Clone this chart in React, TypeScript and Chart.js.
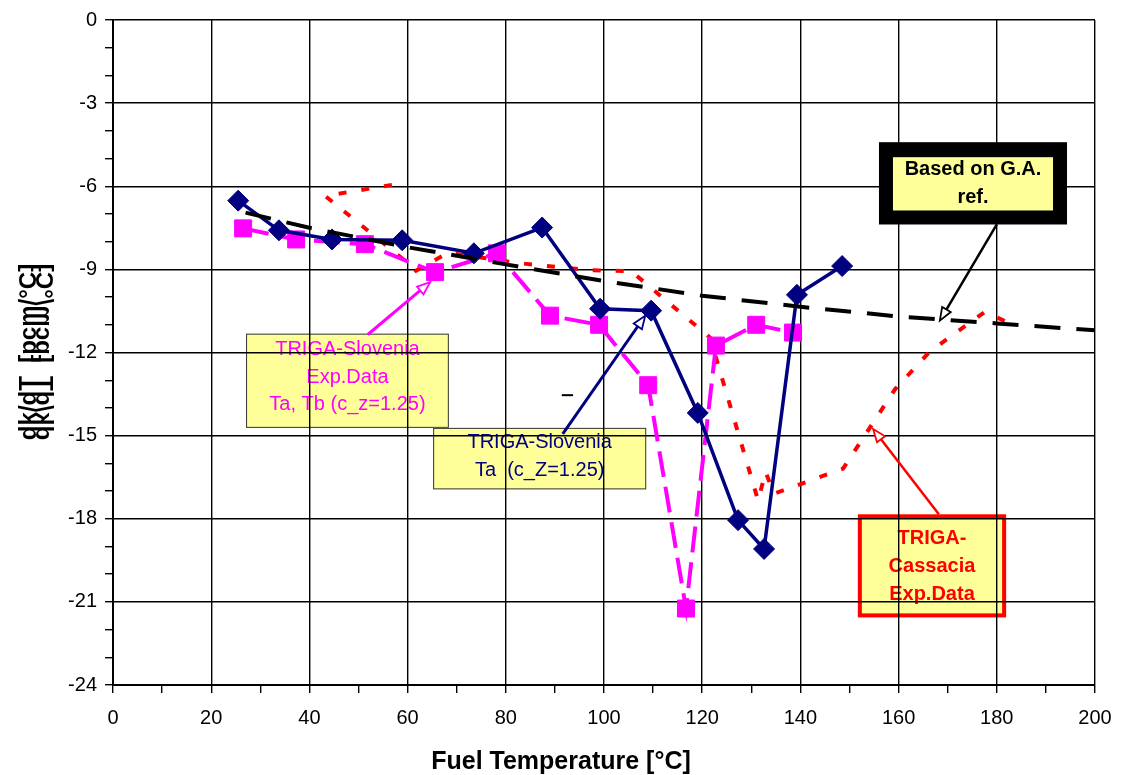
import { useEffect, useRef } from 'react';
import { Chart, registerables } from 'chart.js';

Chart.register(...registerables);

const FONT = "'Liberation Sans', Arial, Helvetica, sans-serif";

// Axis ticks
const xTickLabels = [0, 20, 40, 60, 80, 100, 120, 140, 160, 180, 200];
const yTickLabels = [0, -3, -6, -9, -12, -15, -18, -21, -24];

// TRIGA-Slovenia Ta (c_Z=1.25) - navy diamonds
const taX = [25.5, 33.8, 44.6, 58.9, 73.5, 87.4, 99.2, 109.6, 119.1, 127.3, 132.6, 139.3, 148.5];
const taY = [-6.52, -7.59, -7.92, -7.95, -8.42, -7.49, -10.42, -10.49, -14.18, -18.05, -19.09, -9.92, -8.88];

// TRIGA-Slovenia Exp.Data Ta, Tb (c_z=1.25) - magenta squares
const tabX = [26.5, 37.3, 51.3, 65.6, 78.2, 89.0, 99.0, 109.0, 116.7, 122.8, 131.0, 138.5];
const tabY = [-7.52, -7.92, -8.09, -9.1, -8.42, -10.67, -11.0, -13.18, -21.24, -11.75, -11.0, -11.28];

// Based on G.A. ref. - black dashed
const gaX = [27, 40, 60, 80, 100, 120, 140, 160, 180, 200];
const gaY = [-6.95, -7.5, -8.2, -8.82, -9.42, -9.95, -10.35, -10.7, -10.95, -11.2];

// TRIGA-Cassacia Exp.Data - red dotted
const casX = [56.8, 43.2, 59.9, 61.7, 68.2, 83.0, 97.1, 105.5, 121.6, 131.4, 132.9, 134.6, 148.7, 159.3, 166.4, 177.6, 182.3];
const casY = [-5.95, -6.35, -8.75, -9.05, -8.4, -8.78, -9.03, -9.06, -11.46, -17.35, -16.3, -17.1, -16.19, -13.32, -11.96, -10.53, -10.92];

const pts = (xs: number[], ys: number[]) => xs.map((x, i) => ({ x, y: ys[i] }));

function drawArrow(ctx: CanvasRenderingContext2D, x0: number, y0: number, x1: number, y1: number, color: string, width: number) {
  const a = Math.atan2(y1 - y0, x1 - x0);
  const L = 13, W = 5;
  ctx.save();
  ctx.setLineDash([]);
  ctx.strokeStyle = color;
  ctx.lineWidth = width;
  ctx.beginPath();
  ctx.moveTo(x0, y0);
  ctx.lineTo(x1 - Math.cos(a) * L * 0.9, y1 - Math.sin(a) * L * 0.9);
  ctx.stroke();
  const bx = x1 - Math.cos(a) * L, by = y1 - Math.sin(a) * L;
  ctx.beginPath();
  ctx.moveTo(x1, y1);
  ctx.lineTo(bx + Math.sin(a) * W, by - Math.cos(a) * W);
  ctx.lineTo(bx - Math.sin(a) * W, by + Math.cos(a) * W);
  ctx.closePath();
  ctx.fillStyle = '#fff';
  ctx.fill();
  ctx.lineWidth = 1.8;
  ctx.stroke();
  ctx.restore();
}

type Box = { x0: number; x1: number; y0: number; y1: number; lines: string[]; color: string; font: string; first: number; step: number };

const slovBox: Box = { x0: 27.1, x1: 68.4, y0: -11.32, y1: -14.72, lines: ['TRIGA-Slovenia', 'Exp.Data', 'Ta, Tb (c_z=1.25)'], color: '#FF00FF', font: `20px ${FONT}`, first: 16, step: 27.5 };
const navyBox: Box = { x0: 65.2, x1: 108.6, y0: -14.72, y1: -16.94, lines: ['TRIGA-Slovenia', 'Ta  (c_Z=1.25)'], color: '#000080', font: `20px ${FONT}`, first: 15, step: 28 };
const redBox: Box = { x0: 151.7, x1: 181.9, y0: -17.84, y1: -21.56, lines: ['TRIGA-', 'Cassacia', 'Exp.Data'], color: '#FF0000', font: `bold 20px ${FONT}`, first: 24, step: 28 };
const gaBox: Box = { x0: 156.0, x1: 194.3, y0: -4.41, y1: -7.38, lines: ['Based on G.A.', 'ref.'], color: '#000000', font: `bold 20px ${FONT}`, first: 27, step: 28 };

function boxRect(chart: any, b: Box) {
  const xs = chart.scales.x, ys = chart.scales.y;
  const l = xs.getPixelForValue(b.x0), r = xs.getPixelForValue(b.x1);
  const t = ys.getPixelForValue(b.y0), btm = ys.getPixelForValue(b.y1);
  return { l, r, t, b: btm };
}

function drawBoxText(ctx: CanvasRenderingContext2D, rc: any, b: Box) {
  ctx.save();
  ctx.font = b.font;
  ctx.fillStyle = b.color;
  ctx.textAlign = 'center';
  ctx.textBaseline = 'middle';
  const cx = (rc.l + rc.r) / 2;
  b.lines.forEach((s, i) => ctx.fillText(s, cx, rc.t + b.first + i * b.step));
  ctx.restore();
}

const annotPlugin = {
  id: 'annot',
  beforeDraw(chart: any) {
    const ctx: CanvasRenderingContext2D = chart.ctx;
    for (const b of [slovBox, navyBox]) {
      const rc = boxRect(chart, b);
      ctx.save();
      ctx.fillStyle = '#FFFF99';
      ctx.fillRect(rc.l, rc.t, rc.r - rc.l, rc.b - rc.t);
      ctx.strokeStyle = '#333';
      ctx.lineWidth = 1;
      ctx.strokeRect(rc.l + 0.5, rc.t + 0.5, rc.r - rc.l - 1, rc.b - rc.t - 1);
      ctx.restore();
      drawBoxText(ctx, rc, b);
    }
    {
      const rc = boxRect(chart, redBox);
      ctx.save();
      ctx.fillStyle = '#FFFF99';
      ctx.fillRect(rc.l, rc.t, rc.r - rc.l, rc.b - rc.t);
      ctx.strokeStyle = '#FF0000';
      ctx.lineWidth = 4;
      ctx.strokeRect(rc.l + 2, rc.t + 2, rc.r - rc.l - 4, rc.b - rc.t - 4);
      ctx.restore();
      drawBoxText(ctx, rc, redBox);
    }
  },
  afterDatasetsDraw(chart: any) {
    const ctx: CanvasRenderingContext2D = chart.ctx;
    const xs = chart.scales.x, ys = chart.scales.y;
    const P = (x: number, y: number) => [xs.getPixelForValue(x), ys.getPixelForValue(y)];
    const arrows: [number, number, number, number, string, number][] = [
      [51.9, -11.35, 64.6, -9.46, '#FF00FF', 3],
      [91.6, -14.94, 108.4, -10.67, '#000080', 3],
      [168.2, -17.84, 154.8, -14.76, '#FF0000', 2.5],
      [180.0, -7.38, 168.4, -10.85, '#000000', 2.5],
    ];
    for (const [ax, ay, bx, by, c, w] of arrows) {
      const [x0, y0] = P(ax, ay);
      const [x1, y1] = P(bx, by);
      drawArrow(ctx, x0, y0, x1, y1, c, w);
    }
    const [d0x, d0y] = P(91.4, -13.54);
    const [d1x] = P(93.7, -13.54);
    ctx.save();
    ctx.strokeStyle = '#000';
    ctx.lineWidth = 2;
    ctx.beginPath();
    ctx.moveTo(d0x, d0y);
    ctx.lineTo(d1x, d0y);
    ctx.stroke();
    ctx.restore();
  },
  afterDraw(chart: any) {
    const ctx: CanvasRenderingContext2D = chart.ctx;
    const rc = boxRect(chart, gaBox);
    ctx.save();
    ctx.fillStyle = '#000';
    ctx.fillRect(rc.l, rc.t, rc.r - rc.l, rc.b - rc.t);
    ctx.fillStyle = '#FFFF99';
    ctx.fillRect(rc.l + 14, rc.t + 15, rc.r - rc.l - 28, rc.b - rc.t - 29);
    ctx.restore();
    drawBoxText(ctx, rc, gaBox);

    ctx.save();
    ctx.font = `bold 25px ${FONT}`;
    ctx.fillStyle = '#000';
    ctx.textAlign = 'center';
    ctx.textBaseline = 'middle';
    ctx.fillText('Fuel Temperature [°C]', 561, 762);
    ctx.restore();

    const yl = 'dk/dT  [pcm/°C]';
    ctx.save();
    ctx.font = `bold 24px ${FONT}`;
    ctx.fillStyle = '#000';
    ctx.textAlign = 'center';
    ctx.textBaseline = 'alphabetic';
    ctx.translate(36, 352);
    ctx.rotate(-Math.PI / 2);
    ctx.fillText(yl, 0, 0);
    ctx.scale(1, -1);
    ctx.fillText(yl, 0, 0);
    ctx.restore();
  },
};

export default function App() {
  const ref = useRef<HTMLCanvasElement | null>(null);

  useEffect(() => {
    if (!ref.current) return;
    const tickFont = { family: FONT, size: 20 };
    const chart = new Chart(ref.current, {
      type: 'line',
      data: {
        datasets: [
          {
            label: 'Based on G.A. ref.',
            data: pts(gaX, gaY),
            borderColor: '#000000',
            borderWidth: 4,
            borderDash: [26, 16],
            pointRadius: 0,
            order: 0,
          },
          {
            label: 'TRIGA-Slovenia Ta (c_Z=1.25)',
            data: pts(taX, taY),
            borderColor: '#000080',
            backgroundColor: '#000080',
            pointBackgroundColor: '#000080',
            pointBorderColor: '#000080',
            borderWidth: 3.5,
            pointStyle: 'rectRot',
            pointRadius: 10.5,
            pointBorderWidth: 1,
            order: 1,
          },
          {
            label: 'TRIGA-Slovenia Exp.Data Ta, Tb (c_z=1.25)',
            data: pts(tabX, tabY),
            borderColor: '#FF00FF',
            backgroundColor: '#FF00FF',
            pointBackgroundColor: '#FF00FF',
            pointBorderColor: '#FF00FF',
            borderWidth: 4,
            borderDash: [26, 10],
            pointStyle: 'rect',
            pointRadius: 12,
            pointBorderWidth: 1,
            order: 2,
          },
          {
            label: 'TRIGA-Cassacia Exp.Data',
            data: pts(casX, casY),
            borderColor: '#FF0000',
            borderWidth: 4,
            borderDash: [8, 15],
            pointRadius: 0,
            order: 3,
          },
        ],
      },
      options: {
        responsive: false,
        animation: false,
        layout: { padding: { left: 0, top: 15, right: 33, bottom: 0 } },
        plugins: { legend: { display: false }, tooltip: { enabled: false }, title: { display: false } },
        elements: { line: { tension: 0, fill: false } },
        scales: {
          x: {
            type: 'linear',
            min: 0,
            max: 200,
            ticks: {
              stepSize: 10,
              autoSkip: false,
              maxRotation: 0,
              padding: 13,
              color: '#000',
              font: tickFont,
              callback: (v: any) => (xTickLabels.includes(Number(v)) ? String(v) : ''),
            },
            grid: {
              color: (c: any) => (c.tick && xTickLabels.includes(Number(c.tick.value)) ? '#000' : 'rgba(0,0,0,0)'),
              tickColor: '#000',
              lineWidth: 1.4,
              tickLength: 8,
              drawTicks: true,
            },
            border: { color: '#000', width: 2 },
            afterFit: (s: any) => {
              s.height = 90;
            },
          },
          y: {
            type: 'linear',
            min: -24,
            max: 0,
            ticks: {
              stepSize: 1,
              autoSkip: false,
              padding: 8,
              color: '#000',
              font: tickFont,
              callback: (v: any) => (yTickLabels.includes(Number(v)) ? String(v) : ''),
            },
            grid: {
              color: (c: any) => (c.tick && yTickLabels.includes(Number(c.tick.value)) ? '#000' : 'rgba(0,0,0,0)'),
              tickColor: '#000',
              lineWidth: 1.4,
              tickLength: 8,
              drawTicks: true,
            },
            border: { color: '#000', width: 2 },
            afterFit: (s: any) => {
              s.width = 113;
            },
          },
        },
      },
      plugins: [annotPlugin],
    } as any);
    return () => chart.destroy();
  }, []);

  return (
    <div style={{ position: 'absolute', left: 0, top: 0, width: 1128, height: 775, background: '#fff' }}>
      <canvas ref={ref} width={1128} height={775} style={{ display: 'block' }} />
    </div>
  );
}
